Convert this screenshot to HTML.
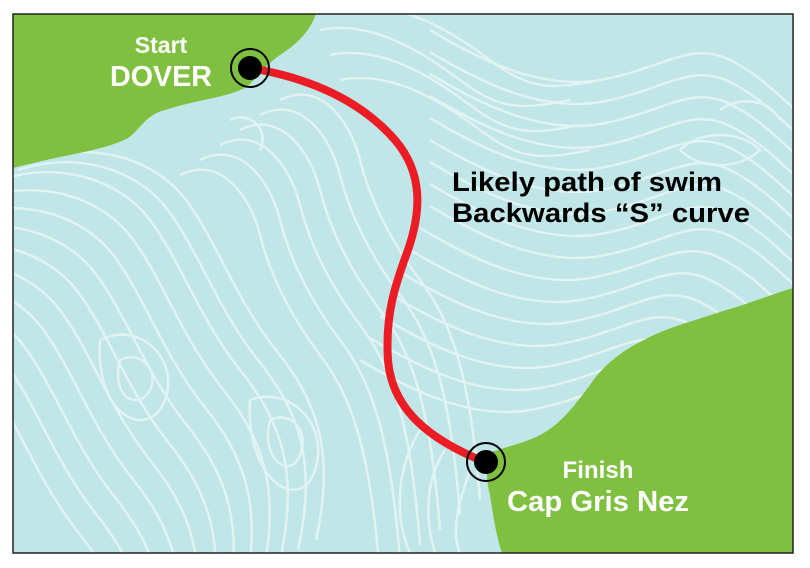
<!DOCTYPE html>
<html><head><style>
html,body{margin:0;padding:0;background:#fff;width:810px;height:568px;overflow:hidden;}
svg{display:block;overflow:hidden;position:absolute;left:0;top:0;}
text{font-family:"Liberation Sans",Arial,sans-serif;font-weight:bold;}
</style></head><body>
<svg width="810" height="568" viewBox="0 0 810 568" xmlns="http://www.w3.org/2000/svg">
<defs>
<path id="a" d="M0,180 C60,160 120,180 150,220 S200,320 240,370 S300,470 280,560"/>
<path id="b" d="M200,160 C240,140 270,180 280,220 S310,300 340,340 S390,430 400,560"/>
<path id="r" d="M430,140 C480,170 540,200 600,190 S690,150 730,170 S790,220 810,230"/>
<path id="t" d="M320,30 C370,20 420,50 460,80 S520,110 570,100"/>
<pattern id="p" patternUnits="userSpaceOnUse" x="0" y="0" width="810" height="568">
<rect x="0" y="0" width="810" height="568" fill="#c0e6e8"/>
<g fill="none" stroke="#e2f3f4" stroke-width="2.5">
<use href="#a" x="0" y="0"/><use href="#a" x="-18" y="18"/><use href="#a" x="-36" y="36"/><use href="#a" x="-54" y="54"/><use href="#a" x="-72" y="72"/><use href="#a" x="-90" y="90"/><use href="#a" x="-108" y="108"/><use href="#a" x="-126" y="126"/><use href="#a" x="-144" y="144"/><use href="#a" x="-162" y="162"/><use href="#a" x="18" y="-10"/><use href="#a" x="36" y="-20"/>
<use href="#b" x="0" y="0"/><use href="#b" x="20" y="-15"/><use href="#b" x="40" y="-30"/><use href="#b" x="60" y="-45"/><use href="#b" x="80" y="-60"/><use href="#b" x="-20" y="15"/>
<use href="#r" x="0" y="0"/><use href="#r" x="0" y="22"/><use href="#r" x="0" y="44"/><use href="#r" x="0" y="66"/><use href="#r" x="-10" y="88"/><use href="#r" x="-20" y="110"/><use href="#r" x="-30" y="132"/><use href="#r" x="-40" y="154"/><use href="#r" x="-50" y="176"/><use href="#r" x="-60" y="198"/><use href="#r" x="-70" y="220"/><use href="#r" x="0" y="-22"/><use href="#r" x="0" y="-44"/><use href="#r" x="0" y="-66"/><use href="#r" x="0" y="-88"/><use href="#r" x="0" y="-110"/>
<use href="#t" x="0" y="0"/><use href="#t" x="10" y="25"/><use href="#t" x="20" y="50"/><use href="#t" x="30" y="-20"/>
<path d="M680,150 C700,130 740,130 760,150 C740,170 700,170 680,150"/>
<path d="M720,110 C740,95 770,100 780,120"/>
<path d="M120,360 C140,350 160,370 150,390 S110,400 120,360"/>
<path d="M100,340 C140,320 180,360 165,400 S95,420 100,340"/>
<path d="M270,420 C290,410 310,430 300,455 S260,460 270,420"/>
<path d="M250,400 C290,385 330,425 315,470 S245,480 250,400"/>
<path d="M230,120 C250,110 270,130 260,150"/>
<path d="M470,470 C460,500 450,530 460,553"/>
<path d="M445,450 C425,480 425,520 435,553"/>
<path d="M420,430 C395,470 395,520 410,553"/>
</g>
</pattern>
</defs>
<rect x="13" y="14" width="780" height="539" fill="url(#p)"/>
<path d="M13,14 L316,14 C310,30 300,42 280,55 C265,65 258,78 245,88 C225,98 195,100 165,110 C145,115 140,130 128,138 C115,145 95,150 70,155 C45,160 25,165 13,168 Z" fill="#7fc041"/>
<path d="M793,288 C770,295 745,305 720,312 C690,322 665,328 640,342 C615,355 600,370 590,385 C575,405 560,425 540,435 C525,443 505,447 492,452 C485,462 486,480 490,495 C493,515 496,535 502,553 L793,553 Z" fill="#7fc041"/>
<path d="M250,68 C310,78 360,100 395,140 C425,175 420,215 408,250 C395,285 385,315 388,360 C392,410 430,440 485,462" fill="none" stroke="#ec1c24" stroke-width="8"/>
<circle cx="250" cy="68" r="19" fill="none" stroke="#000" stroke-width="2"/>
<circle cx="250" cy="68" r="12" fill="#000"/>
<circle cx="486" cy="462" r="19" fill="none" stroke="#000" stroke-width="2"/>
<circle cx="486" cy="462" r="12" fill="#000"/>
<rect x="13" y="14" width="780" height="539" fill="none" stroke="#222" stroke-width="1.5"/>
<text x="161" y="53" fill="#fff" font-size="23" text-anchor="middle">Start</text>
<text x="161" y="86" fill="#fff" font-size="29" text-anchor="middle" textLength="102" lengthAdjust="spacingAndGlyphs">DOVER</text>
<text x="452" y="191" fill="#000" font-size="27" textLength="270" lengthAdjust="spacingAndGlyphs">Likely path of swim</text>
<text x="452" y="222" fill="#000" font-size="27" textLength="298" lengthAdjust="spacingAndGlyphs">Backwards “S” curve</text>
<text x="598" y="478" fill="#fff" font-size="24" text-anchor="middle" textLength="71" lengthAdjust="spacingAndGlyphs">Finish</text>
<text x="598" y="511" fill="#fff" font-size="29" text-anchor="middle" textLength="182" lengthAdjust="spacingAndGlyphs">Cap Gris Nez</text>
</svg>
</body></html>
